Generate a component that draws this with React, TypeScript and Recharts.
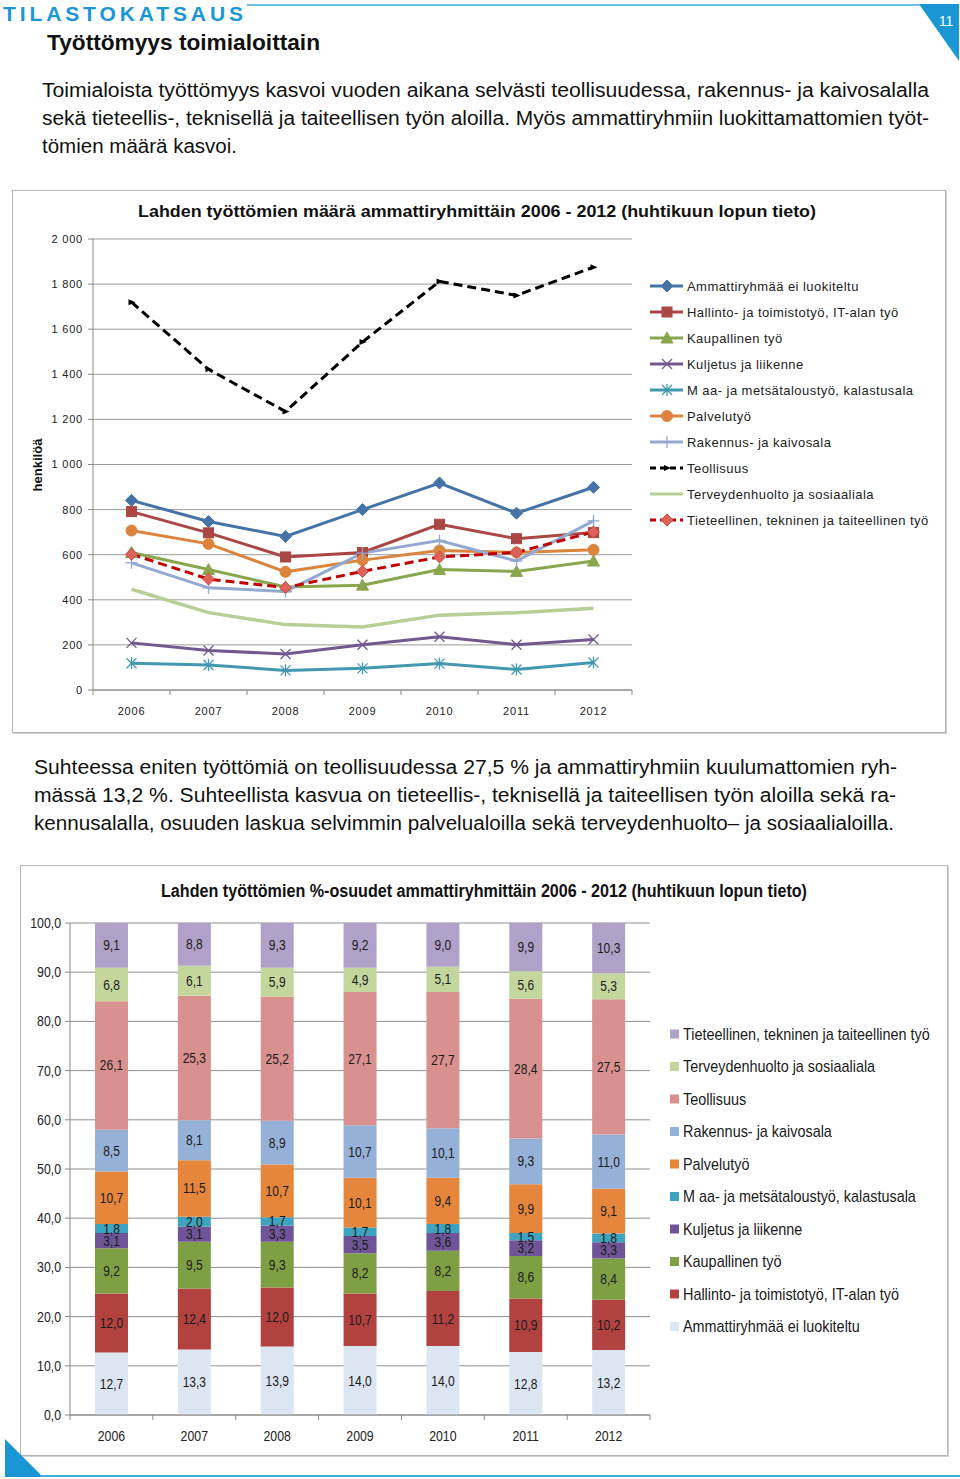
import React from "react";
import {
  LineChart,
  Line,
  BarChart,
  Bar,
  XAxis,
  YAxis,
  CartesianGrid,
  LabelList,
} from "recharts";

// --- data -------------------------------------------------------------

const YEARS = ["2006", "2007", "2008", "2009", "2010", "2011", "2012"];

// unemployed persons (end of April)
const AMMATTI_COUNT = [841, 747, 681, 800, 918, 784, 899];
const HALLINTO_COUNT = [791, 697, 590, 610, 735, 671, 698];
const KAUPALLINEN_COUNT = [610, 534, 457, 465, 534, 526, 572];
const KULJETUS_COUNT = [209, 175, 160, 201, 236, 201, 224];
const MAA_COUNT = [119, 111, 87, 96, 117, 91, 122];
const PALVELU_COUNT = [707, 648, 524, 576, 619, 610, 622];
const RAKENNUS_COUNT = [564, 453, 437, 607, 663, 572, 750];
const TEOLLISUUS_COUNT = [1720, 1422, 1235, 1543, 1812, 1750, 1875];
const TERVEYS_COUNT = [447, 343, 290, 279, 332, 343, 363];
const TIETEELLINEN_COUNT = [602, 492, 454, 526, 590, 610, 701];

// shares, %
const AMMATTI_PCT = [12.7, 13.3, 13.9, 14.0, 14.0, 12.8, 13.2];
const HALLINTO_PCT = [12.0, 12.4, 12.0, 10.7, 11.2, 10.9, 10.2];
const KAUPALLINEN_PCT = [9.2, 9.5, 9.3, 8.2, 8.2, 8.6, 8.4];
const KULJETUS_PCT = [3.1, 3.1, 3.3, 3.5, 3.6, 3.2, 3.3];
const MAA_PCT = [1.8, 2.0, 1.7, 1.7, 1.8, 1.5, 1.8];
const PALVELU_PCT = [10.7, 11.5, 10.7, 10.1, 9.4, 9.9, 9.1];
const RAKENNUS_PCT = [8.5, 8.1, 8.9, 10.7, 10.1, 9.3, 11.0];
const TEOLLISUUS_PCT = [26.1, 25.3, 25.2, 27.1, 27.7, 28.4, 27.5];
const TERVEYS_PCT = [6.8, 6.1, 5.9, 4.9, 5.1, 5.6, 5.3];
const TIETEELLINEN_PCT = [9.1, 8.8, 9.3, 9.2, 9.0, 9.9, 10.3];

const COUNT_TICKS = [0, 200, 400, 600, 800, 1000, 1200, 1400, 1600, 1800, 2000];
const PCT_TICKS = [0, 10, 20, 30, 40, 50, 60, 70, 80, 90, 100];

const NAMES: Record<string, string> = {
  ammatti: "Ammattiryhmää ei luokiteltu",
  hallinto: "Hallinto- ja toimistotyö, IT-alan työ",
  kaupallinen: "Kaupallinen työ",
  kuljetus: "Kuljetus ja liikenne",
  maa: "M aa- ja metsätaloustyö, kalastusala",
  palvelu: "Palvelutyö",
  rakennus: "Rakennus- ja kaivosala",
  teollisuus: "Teollisuus",
  terveys: "Terveydenhuolto ja sosiaaliala",
  tieteellinen: "Tieteellinen, tekninen ja taiteellinen työ",
};

const countData = YEARS.map((year, i) => ({
  year,
  ammatti: AMMATTI_COUNT[i],
  hallinto: HALLINTO_COUNT[i],
  kaupallinen: KAUPALLINEN_COUNT[i],
  kuljetus: KULJETUS_COUNT[i],
  maa: MAA_COUNT[i],
  palvelu: PALVELU_COUNT[i],
  rakennus: RAKENNUS_COUNT[i],
  teollisuus: TEOLLISUUS_COUNT[i],
  terveys: TERVEYS_COUNT[i],
  tieteellinen: TIETEELLINEN_COUNT[i],
}));

const pctData = YEARS.map((year, i) => ({
  year,
  ammatti: AMMATTI_PCT[i],
  hallinto: HALLINTO_PCT[i],
  kaupallinen: KAUPALLINEN_PCT[i],
  kuljetus: KULJETUS_PCT[i],
  maa: MAA_PCT[i],
  palvelu: PALVELU_PCT[i],
  rakennus: RAKENNUS_PCT[i],
  teollisuus: TEOLLISUUS_PCT[i],
  terveys: TERVEYS_PCT[i],
  tieteellinen: TIETEELLINEN_PCT[i],
}));

// --- styles -----------------------------------------------------------

const SANS = "'Liberation Sans', Arial, sans-serif";
const BLUE = "#1b96d4";

const LINES = [
  { key: "ammatti", color: "#4572a7", fill: "#4572a7", shape: "diamond" },
  { key: "hallinto", color: "#aa4643", fill: "#aa4643", shape: "square" },
  { key: "kaupallinen", color: "#89a54e", fill: "#89a54e", shape: "triangle" },
  { key: "kuljetus", color: "#71588f", fill: "none", shape: "x" },
  { key: "maa", color: "#4198af", fill: "none", shape: "star" },
  { key: "palvelu", color: "#db843d", fill: "#db843d", shape: "circle" },
  { key: "rakennus", color: "#93a9cf", fill: "none", shape: "plus" },
  { key: "teollisuus", color: "#000000", fill: "#000000", shape: "small", dash: "9 5" },
  { key: "terveys", color: "#b9cd96", fill: "none", shape: "none" },
  { key: "tieteellinen", color: "#c00000", fill: "#e0605a", shape: "diamond", dash: "9 5" },
];

// bottom -> top
const BARS = [
  { key: "ammatti", color: "#dce6f2" },
  { key: "hallinto", color: "#b1423f" },
  { key: "kaupallinen", color: "#7f9f45" },
  { key: "kuljetus", color: "#6f5597" },
  { key: "maa", color: "#3ea3bf" },
  { key: "palvelu", color: "#e6863c" },
  { key: "rakennus", color: "#95b1d8" },
  { key: "teollisuus", color: "#d8918f" },
  { key: "terveys", color: "#c3d79c" },
  { key: "tieteellinen", color: "#b0a1c8" },
];

function Marker({ shape, cx, cy, color, fill }: any) {
  if (cx == null || cy == null) return <g />;
  switch (shape) {
    case "diamond":
      return (
        <polygon
          points={`${cx},${cy - 6} ${cx + 6},${cy} ${cx},${cy + 6} ${cx - 6},${cy}`}
          fill={fill}
          stroke={color}
          strokeWidth={1}
        />
      );
    case "square":
      return <rect x={cx - 5} y={cy - 5} width={10} height={10} fill={fill} stroke={color} />;
    case "triangle":
      return (
        <polygon
          points={`${cx},${cy - 6} ${cx + 6},${cy + 5} ${cx - 6},${cy + 5}`}
          fill={fill}
          stroke={color}
        />
      );
    case "x":
      return (
        <g stroke={color} strokeWidth={1.3}>
          <line x1={cx - 5} y1={cy - 5} x2={cx + 5} y2={cy + 5} />
          <line x1={cx - 5} y1={cy + 5} x2={cx + 5} y2={cy - 5} />
        </g>
      );
    case "star":
      return (
        <g stroke={color} strokeWidth={1.3}>
          <line x1={cx - 5} y1={cy - 5} x2={cx + 5} y2={cy + 5} />
          <line x1={cx - 5} y1={cy + 5} x2={cx + 5} y2={cy - 5} />
          <line x1={cx} y1={cy - 6} x2={cx} y2={cy + 6} />
        </g>
      );
    case "circle":
      return <circle cx={cx} cy={cy} r={5.5} fill={fill} stroke={color} />;
    case "plus":
      return (
        <g stroke={color} strokeWidth={1.3}>
          <line x1={cx - 6} y1={cy} x2={cx + 6} y2={cy} />
          <line x1={cx} y1={cy - 6} x2={cx} y2={cy + 6} />
        </g>
      );
    case "small":
      return (
        <polygon
          points={`${cx - 3},${cy - 3} ${cx + 4},${cy} ${cx - 3},${cy + 3}`}
          fill={fill}
        />
      );
    default:
      return <g />;
  }
}

const fmtCount = (v: number) =>
  v >= 1000 ? `${Math.floor(v / 1000)} ${String(v % 1000).padStart(3, "0")}` : String(v);
const fmtPct = (v: number) => Number(v).toFixed(1).replace(".", ",");

function YearTick({ x, y, payload, index, half, offset, size, spacing, squeeze }: any) {
  return (
    <g>
      <line x1={x - half} y1={y} x2={x - half} y2={y + 5} stroke="#888" />
      {index === YEARS.length - 1 && (
        <line x1={x + half} y1={y} x2={x + half} y2={y + 5} stroke="#888" />
      )}
      <text
        transform={`translate(${x} ${y + offset}) scale(${squeeze} 1)`}
        textAnchor="middle"
        fontFamily={SANS}
        fontSize={size}
        letterSpacing={spacing}
        fill="#222"
      >
        {payload.value}
      </text>
    </g>
  );
}

function PctTick({ x, y, payload }: any) {
  return (
    <text
      transform={`translate(${x} ${y + 5}) scale(0.88 1)`}
      textAnchor="end"
      fontFamily={SANS}
      fontSize={14}
      fill="#222"
    >
      {fmtPct(payload.value)}
    </text>
  );
}

function BarValue({ x, y, width, height, value }: any) {
  const cx = x + width / 2;
  const cy = y + height / 2;
  return (
    <text
      transform={`translate(${cx} ${cy + 5}) scale(0.86 1)`}
      textAnchor="middle"
      fontFamily={SANS}
      fontSize={14}
      fill="#1a1a1a"
    >
      {fmtPct(value)}
    </text>
  );
}

function CountChart() {
  return (
    <LineChart
      width={640}
      height={542}
      data={countData}
      margin={{ top: 49, right: 20, left: 21, bottom: 12 }}
    >
      <CartesianGrid vertical={false} stroke="#9a9a9a" />
      <XAxis
        dataKey="year"
        height={30}
        tickSize={0}
        tickMargin={0}
        stroke="#888"
        interval={0}
        padding={{ left: 38.5, right: 38.5 }}
        tick={<YearTick half={38.5} offset={25} size={11} spacing={0.8} squeeze={1} />}
      />
      <YAxis
        width={60}
        domain={[0, 2000]}
        ticks={COUNT_TICKS}
        tickFormatter={fmtCount}
        tickSize={5}
        tickMargin={5}
        stroke="#888"
        tick={{ fill: "#222", fontSize: 11, fontFamily: SANS, letterSpacing: 0.8 }}
      />
      {LINES.map((s) => (
        <Line
          key={s.key}
          dataKey={s.key}
          name={NAMES[s.key]}
          type="linear"
          stroke={s.color}
          strokeWidth={s.key === "terveys" ? 3.5 : 3}
          strokeDasharray={s.dash}
          isAnimationActive={false}
          dot={(p: any) => (
            <Marker
              key={`${s.key}-${p.index}`}
              shape={s.shape}
              cx={p.cx}
              cy={p.cy}
              color={s.color === "#c00000" ? "#c0504d" : s.color}
              fill={s.fill}
            />
          )}
          activeDot={false}
        />
      ))}
    </LineChart>
  );
}

function ShareChart() {
  return (
    <BarChart
      width={640}
      height={590}
      data={pctData}
      margin={{ top: 58, right: 10, left: 6, bottom: 12 }}
    >
      <CartesianGrid vertical={false} stroke="#8f8f8f" />
      <XAxis
        dataKey="year"
        height={28}
        tickSize={0}
        tickMargin={0}
        stroke="#888"
        interval={0}
        tick={<YearTick half={41.4} offset={26} size={14} spacing={0} squeeze={0.88} />}
      />
      <YAxis
        width={44}
        domain={[0, 100]}
        allowDataOverflow
        ticks={PCT_TICKS}
        tickSize={5}
        tickMargin={4}
        stroke="#888"
        tick={<PctTick />}
      />
      {BARS.map((b) => (
        <Bar
          key={b.key}
          dataKey={b.key}
          name={NAMES[b.key]}
          stackId="a"
          fill={b.color}
          barSize={33}
          isAnimationActive={false}
        >
          <LabelList dataKey={b.key} content={<BarValue />} />
        </Bar>
      ))}
    </BarChart>
  );
}

function CountLegend() {
  return (
    <g>
      {LINES.map((s, i) => {
        const cy = 286 + i * 26;
        return (
          <g key={s.key}>
            <line
              x1={650}
              y1={cy}
              x2={683}
              y2={cy}
              stroke={s.color}
              strokeWidth={3}
              strokeDasharray={s.dash ? "6 4" : undefined}
            />
            <Marker
              shape={s.shape}
              cx={667}
              cy={cy}
              color={s.color === "#c00000" ? "#c0504d" : s.color}
              fill={s.fill}
            />
            <text
              x={687}
              y={cy + 4.5}
              fontFamily={SANS}
              fontSize={13}
              letterSpacing={0.45}
              fill="#222"
            >
              {NAMES[s.key]}
            </text>
          </g>
        );
      })}
    </g>
  );
}

function ShareLegend() {
  const items = [...BARS].reverse();
  return (
    <g>
      {items.map((b, i) => {
        const cy = 1034 + i * 32.5;
        return (
          <g key={b.key}>
            <rect x={670} y={cy - 4.5} width={9} height={9} fill={b.color} />
            <text
              transform={`translate(683 ${cy + 5.5}) scale(0.9 1)`}
              fontFamily={SANS}
              fontSize={16}
              fill="#1a1a1a"
            >
              {NAMES[b.key]}
            </text>
          </g>
        );
      })}
    </g>
  );
}

const boxStyle: React.CSSProperties = {
  position: "absolute",
  border: "1px solid #b5b5b5",
  boxShadow: "1px 1px 0 #d0d0d0",
  boxSizing: "border-box",
};

export default function App() {
  return (
    <div
      style={{
        position: "absolute",
        left: 0,
        top: 0,
        width: 960,
        height: 1479,
        background: "#fff",
        fontFamily: SANS,
        overflow: "hidden",
      }}
    >
      <div style={{ ...boxStyle, left: 12, top: 190, width: 934, height: 543 }} />
      <div style={{ ...boxStyle, left: 20, top: 865, width: 928, height: 591 }} />

      <div style={{ position: "absolute", left: 12, top: 190 }}>
        <CountChart />
      </div>
      <div style={{ position: "absolute", left: 20, top: 865 }}>
        <ShareChart />
      </div>

      <svg
        width={960}
        height={1479}
        style={{ position: "absolute", left: 0, top: 0, pointerEvents: "none" }}
      >
        {/* header */}
        <text
          x={3}
          y={21}
          fontFamily={SANS}
          fontWeight="bold"
          fontSize={21}
          fill={BLUE}
          textLength={240}
          lengthAdjust="spacing"
        >
          TILASTOKATSAUS
        </text>
        <line x1={247} y1={5} x2={922} y2={5} stroke="#3aaee0" strokeWidth={1.5} />
        <polygon points="919,4 959,4 959,61" fill={BLUE} />
        <text x={946} y={26} textAnchor="middle" fontFamily={SANS} fontSize={14} fill="#fff">
          11
        </text>
        <text
          x={47}
          y={50}
          fontFamily={SANS}
          fontWeight="bold"
          fontSize={22}
          fill="#111"
          textLength={273}
          lengthAdjust="spacingAndGlyphs"
        >
          Työttömyys toimialoittain
        </text>

        {/* paragraph 1 */}
        <g fontFamily={SANS} fontSize={20} fill="#111">
          <text x={42} y={97} textLength={887} lengthAdjust="spacingAndGlyphs">
            Toimialoista työttömyys kasvoi vuoden aikana selvästi teollisuudessa, rakennus- ja kaivosalalla
          </text>
          <text x={42} y={125} textLength={887} lengthAdjust="spacingAndGlyphs">
            sekä tieteellis-, teknisellä ja taiteellisen työn aloilla. Myös ammattiryhmiin luokittamattomien työt-
          </text>
          <text x={42} y={153} textLength={195} lengthAdjust="spacingAndGlyphs">
            tömien määrä kasvoi.
          </text>
        </g>

        {/* chart 1 title + axis label + legend */}
        <text
          x={138}
          y={217}
          fontFamily={SANS}
          fontWeight="bold"
          fontSize={16}
          fill="#111"
          textLength={678}
          lengthAdjust="spacingAndGlyphs"
        >
          Lahden työttömien määrä ammattiryhmittäin 2006 - 2012 (huhtikuun lopun tieto)
        </text>
        <text
          x={0}
          y={0}
          transform="translate(42,465) rotate(-90)"
          textAnchor="middle"
          fontFamily={SANS}
          fontWeight="bold"
          fontSize={13}
          fill="#111"
        >
          henkilöä
        </text>
        <CountLegend />

        {/* paragraph 2 */}
        <g fontFamily={SANS} fontSize={20} fill="#111">
          <text x={34} y={774} textLength={863} lengthAdjust="spacingAndGlyphs">
            Suhteessa eniten työttömiä on teollisuudessa 27,5 % ja ammattiryhmiin kuulumattomien ryh-
          </text>
          <text x={34} y={802} textLength={862} lengthAdjust="spacingAndGlyphs">
            mässä 13,2 %. Suhteellista kasvua on tieteellis-, teknisellä ja taiteellisen työn aloilla sekä ra-
          </text>
          <text x={34} y={830} textLength={860} lengthAdjust="spacingAndGlyphs">
            kennusalalla, osuuden laskua selvimmin palvelualoilla sekä terveydenhuolto– ja sosiaalialoilla.
          </text>
        </g>

        {/* chart 2 title + legend */}
        <text
          x={161}
          y={897}
          fontFamily={SANS}
          fontWeight="bold"
          fontSize={18}
          fill="#111"
          textLength={646}
          lengthAdjust="spacingAndGlyphs"
        >
          Lahden työttömien %-osuudet ammattiryhmittäin 2006 - 2012 (huhtikuun lopun tieto)
        </text>
        <ShareLegend />

        {/* footer */}
        <polygon points="5,1439 5,1477 43,1477" fill={BLUE} />
        <line x1={40} y1={1476} x2={960} y2={1476} stroke="#3aaee0" strokeWidth={2} />
      </svg>
    </div>
  );
}
